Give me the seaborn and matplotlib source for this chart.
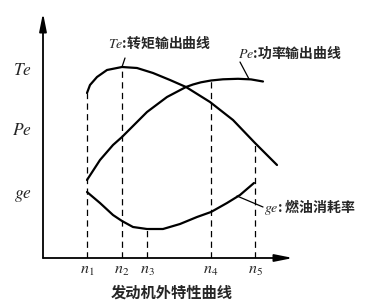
import numpy as np
import pandas as pd
import matplotlib
matplotlib.use("Agg")
import matplotlib.pyplot as plt
import seaborn as sns

# Engine speed sample points and curve values (arbitrary schematic units)
te_speed = [44, 47, 54, 64, 79, 94, 110, 127, 143, 167, 190, 212, 234]
te_value = [165, 173, 181, 188, 191, 190, 185, 178, 171, 156, 138, 115, 93]

pe_speed = [44, 57, 70, 79, 104, 124, 143, 150, 158, 168, 180, 195, 208, 220]
pe_value = [78, 98, 113, 121, 146, 161, 171, 173.5, 175.7, 177.5, 178.7, 179.2, 178.6, 176.5]

ge_speed = [44, 57, 70, 79, 90, 104, 120, 137, 154, 168, 184, 197, 211]
ge_value = [66, 55, 43, 37, 31, 29, 29, 34, 41, 46, 55, 63, 75]

# Characteristic speeds n1..n5 and the curve each marker line reaches
n_speeds = [44, 79, 104, 168, 212]
n_labels = ["$n_1$", "$n_2$", "$n_3$", "$n_4$", "$n_5$"]
n_target = ["Te", "Te", "ge", "Pe", "Te"]

y_tick_values = [190, 130, 66]
y_tick_labels = ["$Te$", "$Pe$", "$ge$"]

curve_labels = {
    "Te": "$Te$:转矩输出曲线",
    "Pe": "$Pe$:功率输出曲线",
    "ge": "$ge$: 燃油消耗率",
}
x_title = "发动机外特性曲线"

sns.set_theme(style="white")
plt.rcParams["font.family"] = ["Noto Sans CJK SC", "DejaVu Sans"]
plt.rcParams["mathtext.fontset"] = "stix"

curves = {"Te": (te_speed, te_value), "Pe": (pe_speed, pe_value), "ge": (ge_speed, ge_value)}
df = pd.concat(
    [pd.DataFrame({"speed": s, "value": v, "curve": k}) for k, (s, v) in curves.items()],
    ignore_index=True,
)

fig = plt.figure(figsize=(3.75, 3.04), dpi=100)
ax = fig.add_axes([43 / 375, 46 / 304, 250 / 375, 245 / 304])

sns.lineplot(
    data=df, x="speed", y="value", hue="curve", units="curve", estimator=None,
    sort=False, palette={"Te": "black", "Pe": "black", "ge": "black"},
    linewidth=1.6, legend=False, ax=ax,
)

# Dashed markers from the speed axis up to the relevant curve
for n, tgt in zip(n_speeds, n_target):
    s, v = curves[tgt]
    top = np.interp(n, s, v)
    ax.plot([n, n], [0, top], color="black", lw=0.9, ls=(0, (5, 3.5)))

ax.set_xlim(0, 250)
ax.set_ylim(0, 245)
for sp in ax.spines.values():
    sp.set_visible(False)

# Axes drawn as arrows
arrow = dict(arrowstyle="-|>,head_length=0.9,head_width=0.18", lw=1.3, color="black",
             shrinkA=0, shrinkB=0)
ax.annotate("", xy=(250, 0), xytext=(0, 0), arrowprops=arrow, annotation_clip=False)
ax.annotate("", xy=(0, 245), xytext=(0, 0), arrowprops=arrow, annotation_clip=False)

ax.set_xticks(n_speeds)
ax.set_xticklabels(n_labels, fontsize=11.5)
ax.set_yticks(y_tick_values)
ax.set_yticklabels(y_tick_labels, fontsize=12.5)
ax.tick_params(axis="x", length=0, pad=2)
ax.tick_params(axis="y", length=0, pad=8)
ax.set_xlabel(x_title, fontsize=11, fontweight="bold", labelpad=5)
ax.xaxis.set_label_coords(129 / 250, -0.11)
ax.set_ylabel("")

# Curve annotations with leader lines
ax.plot([79, 82], [191, 200], color="black", lw=0.9)
ax.text(65, 215, curve_labels["Te"], fontsize=10, fontweight="bold", va="center", ha="left")
ax.plot([206, 197], [179, 196], color="black", lw=0.9)
ax.text(195, 205, curve_labels["Pe"], fontsize=10, fontweight="bold", va="center", ha="left")
ax.plot([194, 220], [62, 51], color="black", lw=0.9)
ax.text(221, 51, curve_labels["ge"], fontsize=10, fontweight="bold", va="center", ha="left",
        clip_on=False)

fig.savefig("out.png", dpi=100)
